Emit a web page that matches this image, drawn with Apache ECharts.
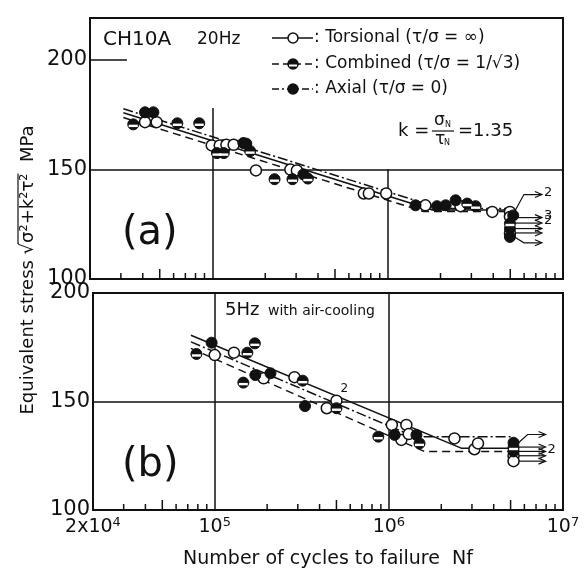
<!DOCTYPE html>
<html><head><meta charset="utf-8">
<script src="https://cdn.jsdelivr.net/npm/echarts@6/dist/echarts.min.js"></script>
<style>html,body{margin:0;padding:0;background:#fff}#c{width:586px;height:572px}</style>
</head><body><div id="c"></div>
<script>
const FONT = 'DejaVu Sans';

// ---------- axis ticks / labels ----------
const xMin = 2e4, xMax = 1e7;
const yTickLabels = [100, 150, 200];
const xTickLabels = {'20000': '2x10{s|4}', '100000': '10{s|5}', '1000000': '10{s|6}', '10000000': '10{s|7}'};
const minorTicks = [3e4,4e4,5e4,6e4,7e4,8e4,9e4,2e5,3e5,4e5,5e5,6e5,7e5,8e5,9e5,2e6,3e6,4e6,5e6,6e6,7e6,8e6,9e6];

// ---------- panel (a) 20 Hz ----------
const torsA_line  = [[3.1e4,175.8],[1.8e6,131.5],[4.9e6,131.5]];
const combA_line  = [[3.1e4,173.6],[1.6e6,130.8],[4.6e6,130.8]];
const axialA_line = [[3.1e4,177.6],[2.0e6,132.2],[4.9e6,132.2]];

const torsA_pts = [[4.12e4,171.5],[4.8e4,171.5],[9.9e4,160.9],[1.1e5,160.9],[1.2e5,161.2],[1.32e5,161.2],
  [1.77e5,149.5],[2.78e5,149.9],[3.03e5,149.5],[7.3e5,139],[7.8e5,139],[9.8e5,139],[1.64e6,133.6],
  [2.6e6,133.2],[3.95e6,130.6],[4.98e6,130.6],[4.98e6,128.3],[4.98e6,120.8]];
const combA_pts = [[3.53e4,170.5],[6.3e4,171],[8.4e4,171],[1.06e5,157.4],[1.16e5,157.4],[1.64e5,158.3],
  [2.26e5,145.5],[2.86e5,145.5],[3.5e5,145.8],[2.84e6,134.4],[3.17e6,133.2],[4.98e6,125.3]];
const axialA_pts = [[4.12e4,176],[4.6e4,176],[1.5e5,162],[1.56e5,161.7],[3.3e5,147.7],[1.44e6,133.6],
  [1.91e6,133.2],[2.14e6,133.6],[2.44e6,135.9],[5.2e6,129],[4.98e6,123],[4.98e6,119.2]];
// run-outs: [N, stress at specimen, stress of arrow]
const runA = [[4.98e6,131,138.5],[4.98e6,128,127.7],[4.98e6,125.5,125.6],[4.98e6,123,123.2],[4.98e6,121,120.9],[4.98e6,119,116.5]];
const runA_labels = ['2','3','2','','',''];

// ---------- panel (b) 5 Hz with air-cooling ----------
const torsB_line  = [[7.3e4,180.5],[2.6e6,128.5],[5.0e6,128.5]];
const combB_line  = [[7.3e4,174.5],[1.6e6,127.0],[5.0e6,127.0]];
const axialB_line = [[7.3e4,177.5],[1.4e6,133.8],[5.0e6,133.8]];

const torsB_pts = [[1.0e5,171.4],[1.29e5,172.5],[1.91e5,160.7],[2.87e5,161.2],[4.4e5,146.9],[5.0e5,150.4],
  [1.04e6,139.2],[1.26e6,139.2],[1.18e6,132.3],[1.3e6,135],[2.38e6,133],[3.1e6,128],[3.25e6,130.7],
  [5.2e6,125],[5.2e6,122.5]];
const combB_pts = [[7.85e4,171.9],[1.54e5,172.5],[1.7e5,176.8],[1.46e5,158.7],[3.2e5,159.6],[5.0e5,146.9],
  [8.7e5,133.8],[1.5e6,130.7],[5.2e6,128.8]];
const axialB_pts = [[9.6e4,177.1],[1.71e5,162.2],[2.09e5,163],[3.3e5,147.9],[1.08e6,134.6],[1.44e6,134.6],
  [5.2e6,131],[5.2e6,127]];
const runB = [[5.2e6,131,134.8],[5.2e6,129,129],[5.2e6,127,127.2],[5.2e6,125,125.2],[5.2e6,122.5,123]];
const runB_labels = ['','','2','',''];
const noteB = [[5.0e5,150.4]]; const noteB_labels = ['2'];

// ---------- helpers ----------
const BLACK = '#111';
function lineSeries(data, type, gi) {
  return {type:'line', xAxisIndex:gi, yAxisIndex:gi, data, symbol:'none', silent:true, z:3,
    lineStyle:{color:BLACK, width:1.5, type}, animation:false};
}
function openSeries(data, gi) {
  return {type:'scatter', xAxisIndex:gi, yAxisIndex:gi, data, symbol:'circle', symbolSize:11, z:5,
    itemStyle:{color:'#fff', borderColor:BLACK, borderWidth:1.5, opacity:1}, animation:false};
}
function fullSeries(data, gi) {
  return {type:'scatter', xAxisIndex:gi, yAxisIndex:gi, data, symbol:'circle', symbolSize:11, z:5,
    itemStyle:{color:BLACK, borderColor:BLACK, borderWidth:1, opacity:1}, animation:false};
}
function halfSeries(data, gi) {
  return [fullSeries(data, gi),
    {type:'scatter', xAxisIndex:gi, yAxisIndex:gi, data, symbol:'rect', symbolSize:[9,2.4], symbolOffset:[0,1.5], z:6,
      itemStyle:{color:'#fff', opacity:1}, animation:false}];
}
function tickSeries(gi, yBase) {
  return {type:'custom', xAxisIndex:gi, yAxisIndex:gi, data: minorTicks.map(v => [v, yBase]), silent:true, z:4, clip:false,
    renderItem(params, api) {
      const v = api.value(0);
      const p = api.coord([v, api.value(1)]);
      const m = Math.round(v / Math.pow(10, Math.floor(Math.log10(v) + 1e-9)));
      const len = m === 5 ? 10 : 6;
      return {type:'line', shape:{x1:p[0], y1:p[1], x2:p[0], y2:p[1]-len}, style:{stroke:BLACK, lineWidth:1.5}};
    }, animation:false};
}
function arrowSeries(data, labels, gi) {
  return {type:'custom', xAxisIndex:gi, yAxisIndex:gi, data, silent:true, z:4, clip:false,
    renderItem(params, api) {
      const p0 = api.coord([api.value(0), api.value(1)]);
      const p1 = api.coord([api.value(0), api.value(2)]);
      const sx = p0[0] + 5;
      let pts;
      if (Math.abs(p1[1] - p0[1]) > 1.5) pts = [[sx, p0[1]], [sx + 9, p1[1]], [sx + 26, p1[1]]];
      else pts = [[sx, p0[1]], [sx + 26, p0[1]]];
      const e = pts[pts.length - 1];
      const ch = [
        {type:'polyline', shape:{points:pts}, style:{stroke:BLACK, lineWidth:1.2, fill:null}},
        {type:'polyline', shape:{points:[[e[0]-6,e[1]-3],[e[0]+1,e[1]],[e[0]-6,e[1]+3]]}, style:{stroke:BLACK, lineWidth:1.2, fill:null}}
      ];
      const t = labels[params.dataIndex];
      if (t) ch.push({type:'text', x:e[0]+3, y:e[1]-2, style:{text:t, font:'13px ' + FONT, fill:BLACK, verticalAlign:'middle'}});
      return {type:'group', children:ch};
    }, animation:false};
}
function noteSeries(data, labels, gi) {
  return {type:'custom', xAxisIndex:gi, yAxisIndex:gi, data, silent:true, z:6, clip:false,
    renderItem(params, api) {
      const p = api.coord([api.value(0), api.value(1)]);
      return {type:'text', x:p[0]+4, y:p[1]-12, style:{text:labels[params.dataIndex], font:'12px ' + FONT, fill:BLACK, verticalAlign:'middle'}};
    }, animation:false};
}

const yLabel = {fontFamily:FONT, fontSize:21, color:BLACK, margin:3,
  formatter: v => (yTickLabels.indexOf(v) >= 0 ? String(v) : '')};

const gridA = {left:90, top:18, width:473, height:261};
const gridB = {left:93, top:293, width:470, height:217};

const option = {
  animation:false,
  backgroundColor:'#fff',
  grid:[Object.assign({show:true, borderColor:BLACK, borderWidth:2}, gridA),
        Object.assign({show:true, borderColor:BLACK, borderWidth:2}, gridB)],
  xAxis:[
    {type:'log', logBase:10, gridIndex:0, min:xMin, max:xMax,
      axisLine:{show:false}, axisTick:{show:false}, axisLabel:{show:false}, splitLine:{show:false}},
    {type:'log', logBase:10, gridIndex:1, min:xMin, max:xMax,
      axisLine:{show:false}, axisTick:{show:false}, splitLine:{show:true, lineStyle:{color:BLACK, width:1.5}},
      name:'Number of cycles to failure  Nf', nameLocation:'middle', nameGap:40,
      nameTextStyle:{fontFamily:FONT, fontSize:19, color:BLACK},
      axisLabel:{showMinLabel:true, showMaxLabel:true, margin:6, fontFamily:FONT, fontSize:19, color:BLACK,
        formatter: v => { const k = String(Math.round(v)); return xTickLabels[k] || ''; },
        rich:{s:{fontFamily:FONT, fontSize:13, color:BLACK, verticalAlign:'bottom', padding:[0,0,9,0]}}}}
  ],
  yAxis:[
    {type:'value', gridIndex:0, min:100, max:219, interval:50,
      axisLine:{show:false}, axisTick:{show:false}, splitLine:{show:false}, axisLabel:yLabel},
    {type:'value', gridIndex:1, min:100, max:200, interval:50,
      axisLine:{show:false}, axisTick:{show:false}, splitLine:{show:true, lineStyle:{color:BLACK, width:1.5}}, axisLabel:yLabel}
  ],
  series:[
    // partial grid lines of panel (a)
    {type:'line', xAxisIndex:0, yAxisIndex:0, data:[], silent:true, z:2,
      markLine:{silent:true, symbol:'none', animation:false, label:{show:false},
        lineStyle:{color:BLACK, width:1.5, type:'solid'},
        data:[
          [{coord:[xMin,150]},{coord:[xMax,150]}],
          [{coord:[xMin,200]},{coord:[3.25e4,200]}],
          [{coord:[1e5,100]},{coord:[1e5,178]}],
          [{coord:[1e6,100]},{coord:[1e6,150]}]
        ]}},
    tickSeries(0, 100), tickSeries(1, 100),
    lineSeries(torsA_line, 'solid', 0), lineSeries(combA_line, [8,5], 0), lineSeries(axialA_line, [10,3,2,3], 0),
    lineSeries(torsB_line, 'solid', 1), lineSeries(combB_line, [8,5], 1), lineSeries(axialB_line, [10,3,2,3], 1),
    arrowSeries(runA, runA_labels, 0), arrowSeries(runB, runB_labels, 1), noteSeries(noteB, noteB_labels, 1),
    openSeries(torsA_pts, 0), ...halfSeries(combA_pts, 0), fullSeries(axialA_pts, 0),
    openSeries(torsB_pts, 1), ...halfSeries(combB_pts, 1), fullSeries(axialB_pts, 1)
  ],
  graphic:[]
};

// ---------- texts / legend ----------
const G = option.graphic;
function txt(x, y, s, size, extra) {
  G.push(Object.assign({type:'text', x, y, silent:true, z:10,
    style:{text:s, font: size + 'px ' + FONT, fill:BLACK, verticalAlign:'middle', align:'left'}}, extra || {}));
}
txt(103, 40, 'CH10A', 20);
txt(197, 40, '20Hz', 17);
const legendRows = [
  {y:38, dash:'solid', kind:'open', text:': Torsional (τ/σ = ∞)'},
  {y:64, dash:[7,4], kind:'half', text:': Combined (τ/σ = 1/√3)'},
  {y:89, dash:[7,3,2,3], kind:'full', text:': Axial (τ/σ = 0)'}
];
legendRows.forEach(r => {
  G.push({type:'line', silent:true, z:10, shape:{x1:272, y1:r.y, x2:313, y2:r.y}, style:{stroke:BLACK, lineWidth:1.5, lineDash:r.dash === 'solid' ? null : r.dash}});
  G.push({type:'circle', silent:true, z:11, shape:{cx:293, cy:r.y, r:5}, style:{fill:r.kind === 'open' ? '#fff' : BLACK, stroke:BLACK, lineWidth:1.5}});
  if (r.kind === 'half') G.push({type:'rect', silent:true, z:12, shape:{x:289, y:r.y+0.5, width:8, height:2}, style:{fill:'#fff'}});
  txt(314, r.y, r.text, 17);
});
// k formula
txt(398, 131, 'k =', 18);
txt(434, 121, 'σ', 17); txt(445, 125, 'N', 8);
G.push({type:'line', silent:true, z:10, shape:{x1:432, y1:131, x2:454, y2:131}, style:{stroke:BLACK, lineWidth:1.2}});
txt(435, 140, 'τ', 17); txt(444, 143, 'N', 8);
txt(458, 131, '=1.35', 18);
// panel tags
txt(122, 234, '(a)', 40);
txt(122, 466, '(b)', 40);
txt(225, 310, '5Hz', 18);
txt(268, 311, 'with air-cooling', 14);

// y axis title (rotated) with radical overline
(function () {
  const c = document.createElement('canvas').getContext('2d');
  const size = 18; c.font = size + 'px ' + FONT;
  const p1 = 'Equivalent stress √', p2 = 'σ²+k²τ²', p3 = '  MPa';
  const w1 = c.measureText(p1).width, w2 = c.measureText(p2).width, w3 = c.measureText(p3).width;
  const total = w1 + w2 + w3;
  const cx = 28, cy = 270;
  const x0 = -total / 2;
  G.push({type:'group', x:cx, y:cy, rotation:Math.PI/2, silent:true, z:10, children:[
    {type:'text', x:x0, y:0, style:{text:p1, font:size + 'px ' + FONT, fill:BLACK, verticalAlign:'middle'}},
    {type:'text', x:x0 + w1, y:0, style:{text:p2, font:size + 'px ' + FONT, fill:BLACK, verticalAlign:'middle'}},
    {type:'line', shape:{x1:x0 + w1 - 1, y1:-10, x2:x0 + w1 + w2, y2:-10}, style:{stroke:BLACK, lineWidth:1.2}},
    {type:'text', x:x0 + w1 + w2, y:0, style:{text:p3, font:size + 'px ' + FONT, fill:BLACK, verticalAlign:'middle'}}
  ]});
})();

const chart = echarts.init(document.getElementById('c'), null, {renderer:'canvas'});
chart.setOption(option);
</script></body></html>
